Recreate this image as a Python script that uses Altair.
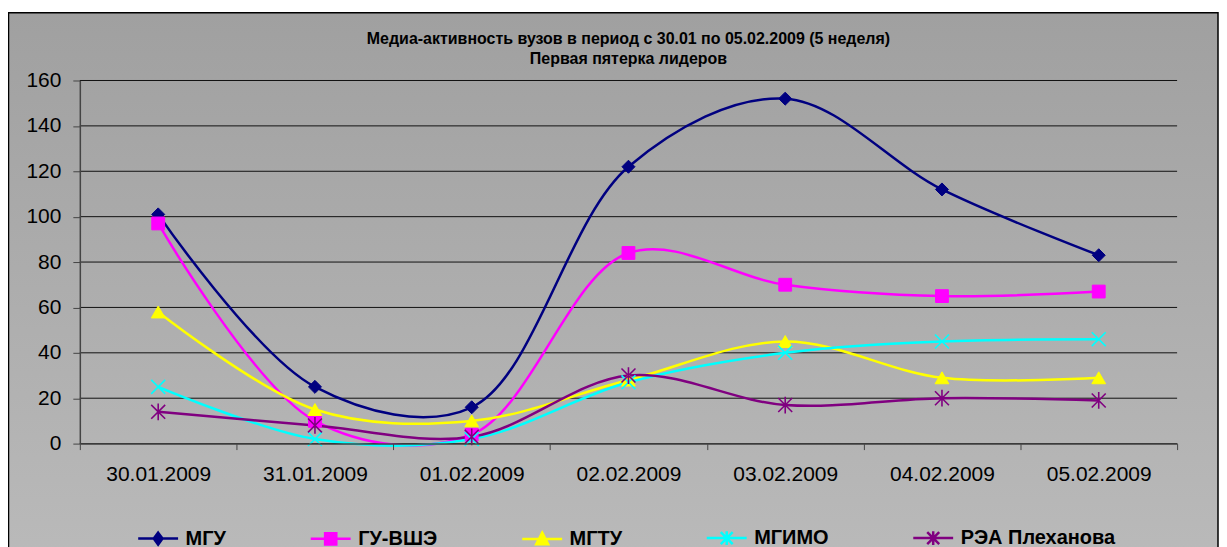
import altair as alt
import pandas as pd

dates = ["30.01.2009", "31.01.2009", "01.02.2009", "02.02.2009",
         "03.02.2009", "04.02.2009", "05.02.2009"]
series = ["МГУ", "ГУ-ВШЭ", "МГТУ", "МГИМО", "РЭА Плеханова"]
mgu = [101, 25, 16, 122, 152, 112, 83]
hse = [97, 10, 4, 84, 70, 65, 67]
mgtu = [58, 15, 10, 28, 45, 29, 29]
mgimo = [25, 2, 2, 27, 40, 45, 46]
rea = [14, 8, 3, 30, 17, 20, 19]
y_ticks = [0, 20, 40, 60, 80, 100, 120, 140, 160]
colors = ["#000080", "#FF00FF", "#FFFF00", "#00FFFF", "#800080"]

values = [mgu, hse, mgtu, mgimo, rea]
rows = []
for s, vals in zip(series, values):
    for d, v in zip(dates, vals):
        rows.append({"date": d, "series": s, "value": v})
df = pd.DataFrame(rows)

FONT = "Liberation Sans"

x_enc = alt.X("date:N", sort=dates, bandPosition=0.5,
              scale=alt.Scale(type="band", paddingInner=0, paddingOuter=0),
              axis=alt.Axis(title=None, labelAngle=0, tickBand="extent",
                            labelFontSize=21, labelFont=FONT, labelColor="black",
                            tickSize=6, tickColor="#444", domainColor="#444",
                            domainWidth=1.5, labelPadding=14, grid=False, zindex=2))
y_scale = alt.Scale(domain=[0, 160], nice=False)
y_axis = alt.Axis(title=None, values=y_ticks,
                  labelFontSize=21, labelFont=FONT, labelColor="black",
                  tickSize=7, tickColor="#444", domainColor="#444",
                  domainWidth=1.5, labelPadding=12, grid=False, zindex=2)
y_enc = alt.Y("value:Q", scale=y_scale, axis=y_axis)

color_scale = alt.Scale(domain=series, range=colors)

bg = alt.Chart(pd.DataFrame({"a": [0]})).mark_rect(
    fill=alt.LinearGradient(gradient="linear",
                            stops=[alt.GradientStop(color="#a0a0a0", offset=0),
                                   alt.GradientStop(color="#bababa", offset=1)],
                            x1=0, x2=0, y1=0, y2=1),
    stroke="black", strokeWidth=1.5
).encode(x=alt.value(-71.5), x2=alt.value(1141), y=alt.value(-68), y2=alt.value(485))

grid = alt.Chart(pd.DataFrame({"tick": y_ticks})).mark_rule(
    color="#111", strokeWidth=1).encode(y=alt.Y("tick:Q", scale=y_scale, axis=y_axis))

base = alt.Chart(df)

line_layers = []
for s, c in zip(series, colors):
    line_layers.append(
        base.transform_filter(alt.datum.series == s)
        .mark_line(interpolate="catmull-rom", strokeWidth=2.5, color=c)
        .encode(x=x_enc, y=y_enc))

X_PATH = "M-1,-1L1,1M-1,1L1,-1"
AST_PATH = "M-1,-1L1,1M-1,1L1,-1M0,-1.2L0,1.2"
marker_specs = [
    ("МГУ", "diamond", True, 170),
    ("ГУ-ВШЭ", "square", True, 165),
    ("МГТУ", "triangle-up", True, 190),
    ("МГИМО", X_PATH, False, 196),
    ("РЭА Плеханова", AST_PATH, False, 196),
]
point_layers = []
for (s, shp, filled, size), c in zip(marker_specs, colors):
    kw = dict(shape=shp, filled=filled, size=size, opacity=1)
    if filled:
        kw.update(fill=c, stroke=c, strokeWidth=1)
    else:
        kw.update(stroke=c, strokeWidth=1.6)
    point_layers.append(
        base.transform_filter(alt.datum.series == s).mark_point(**kw).encode(x=x_enc, y=y_enc))

legend_paths = [
    "M-1,0L1,0M0,-0.3L0.22,0L0,0.3L-0.22,0Z",
    "M-1,0L1,0M-0.28,-0.28L0.28,-0.28L0.28,0.28L-0.28,0.28Z",
    "M-1,0L1,0M0,-0.32L0.3,0.26L-0.3,0.26Z",
    "M-1,0L1,0M-0.3,-0.3L0.3,0.3M-0.3,0.3L0.3,-0.3M0,-0.35L0,0.35",
    "M-1,0L1,0M-0.3,-0.3L0.3,0.3M-0.3,0.3L0.3,-0.3M0,-0.35L0,0.35",
]
leg = alt.Legend(title=None, orient="none", legendX=57, legendY=437,
                 direction="horizontal", columnPadding=79, zindex=3,
                 labelFontSize=20, labelFont=FONT, labelFontWeight="bold",
                 labelColor="black", symbolSize=1600, symbolStrokeWidth=2.5,
                 symbolOpacity=1, labelOffset=6, labelLimit=400)
legend_layer = base.mark_point(filled=True, opacity=0).encode(
    x=x_enc, y=y_enc,
    fill=alt.Fill("series:N", scale=color_scale, sort=series, legend=leg),
    stroke=alt.Stroke("series:N", scale=color_scale, sort=series, legend=leg),
    shape=alt.Shape("series:N", sort=series,
                    scale=alt.Scale(domain=series, range=legend_paths), legend=leg))

chart = alt.layer(bg, grid, *line_layers, *point_layers, legend_layer).properties(
    width=1100, height=364,
    autosize=alt.AutoSizeParams(type="none"),
    padding={"left": 72, "top": 72, "right": 42, "bottom": 110},
    title=alt.TitleParams(
        ["Медиа-активность вузов в период с 30.01 по 05.02.2009 (5 неделя)",
         "Первая пятерка лидеров"],
        fontSize=16, font=FONT, fontWeight="bold", color="black",
        anchor="middle", lineHeight=20, offset=-55, zindex=3),
).configure(background="white").configure_view(stroke=None)

chart.save("out.html", embed_options={"renderer": "svg", "actions": False})
